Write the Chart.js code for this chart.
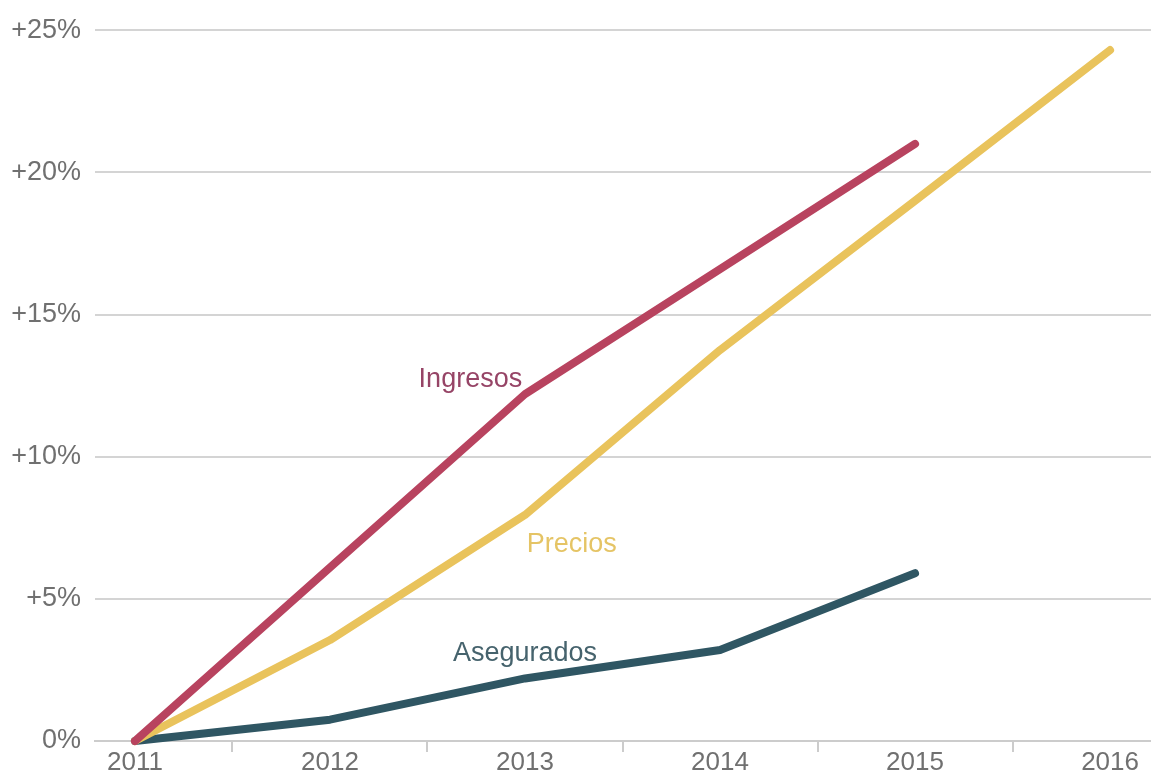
<!DOCTYPE html>
<html>
<head>
<meta charset="utf-8">
<script src="https://cdn.jsdelivr.net/npm/chart.js@4.4.1/dist/chart.umd.min.js"></script>
<style>
  html, body { margin: 0; padding: 0; background: #ffffff; }
  #wrap { width: 1151px; height: 778px; }
</style>
</head>
<body>
<div id="wrap"><canvas id="c" width="1151" height="778"></canvas></div>
<script>
const years = [2011, 2012, 2013, 2014, 2015, 2016];
const ingresos = [0, 6.1, 12.2, 16.6, 21.0, null];
const precios = [0, 3.55, 7.95, 13.75, 19.0, 24.3];
const asegurados = [0, 0.75, 2.2, 3.2, 5.9, null];
const yTicks = [0, 5, 10, 15, 20, 25];
const seriesNames = ['Ingresos', 'Precios', 'Asegurados'];

const FONT = "'Liberation Sans', Arial, sans-serif";
const toPts = arr => years.map((yr, i) => ({ x: yr, y: arr[i] }));

const labelPlugin = {
  id: 'seriesLabels',
  afterDatasetsDraw(chart) {
    const { ctx, scales: { x, y } } = chart;
    const anchors = [
      { text: seriesNames[0], xv: 2012.72, yv: 12.72, color: '#964466' },
      { text: seriesNames[1], xv: 2013.24, yv: 6.9, color: '#e5c465' },
      { text: seriesNames[2], xv: 2013.0, yv: 3.07, color: '#46636d' }
    ];
    ctx.save();
    ctx.font = "27px " + FONT;
    ctx.textAlign = 'center';
    ctx.textBaseline = 'middle';
    anchors.forEach(a => {
      ctx.fillStyle = a.color;
      ctx.fillText(a.text, x.getPixelForValue(a.xv), y.getPixelForValue(a.yv));
    });
    ctx.restore();
  }
};

new Chart(document.getElementById('c'), {
  type: 'line',
  data: {
    datasets: [
      { label: seriesNames[0], data: toPts(ingresos), borderColor: '#b8435f', borderWidth: 8, clip: false },
      { label: seriesNames[1], data: toPts(precios), borderColor: '#e9c35c', borderWidth: 8, clip: false },
      { label: seriesNames[2], data: toPts(asegurados), borderColor: '#2f5663', borderWidth: 8, clip: false }
    ]
  },
  options: {
    responsive: false,
    animation: false,
    devicePixelRatio: 1,
    elements: {
      point: { radius: 0, hoverRadius: 0 },
      line: { tension: 0, borderCapStyle: 'round', borderJoinStyle: 'round', fill: false }
    },
    layout: { padding: { top: 30, right: 0, left: 0, bottom: 0 } },
    plugins: { legend: { display: false }, tooltip: { enabled: false }, title: { display: false } },
    scales: {
      x: {
        type: 'linear',
        min: 2010.795,
        max: 2016.21,
        afterBuildTicks(scale) {
          const t = [];
          years.forEach((yr, i) => {
            t.push({ value: yr });
            if (i < years.length - 1) t.push({ value: yr + 0.5 });
          });
          scale.ticks = t;
        },
        afterFit(scale) { scale.height = 37; },
        ticks: {
          autoSkip: false,
          maxRotation: 0,
          padding: -5,
          color: '#707070',
          font: { family: FONT, size: 26 },
          callback: v => Number.isInteger(v) ? String(v) : ''
        },
        grid: {
          drawOnChartArea: false,
          drawTicks: true,
          tickLength: 11,
          lineWidth: 2,
          color: ctx => (ctx.tick && !Number.isInteger(ctx.tick.value)) ? '#cccccc' : 'rgba(0,0,0,0)'
        },
        border: { display: true, color: '#cccccc', width: 2 }
      },
      y: {
        min: 0,
        max: 25,
        afterBuildTicks(scale) { scale.ticks = yTicks.map(v => ({ value: v })); },
        afterFit(scale) { scale.width = 95; },
        ticks: {
          padding: 14,
          color: '#707070',
          font: { family: FONT, size: 27 },
          callback: v => v === 0 ? '0%' : '+' + v + '%'
        },
        grid: { color: '#d4d4d4', lineWidth: 2, drawTicks: false },
        border: { display: false }
      }
    }
  },
  plugins: [labelPlugin]
});
</script>
</body>
</html>
